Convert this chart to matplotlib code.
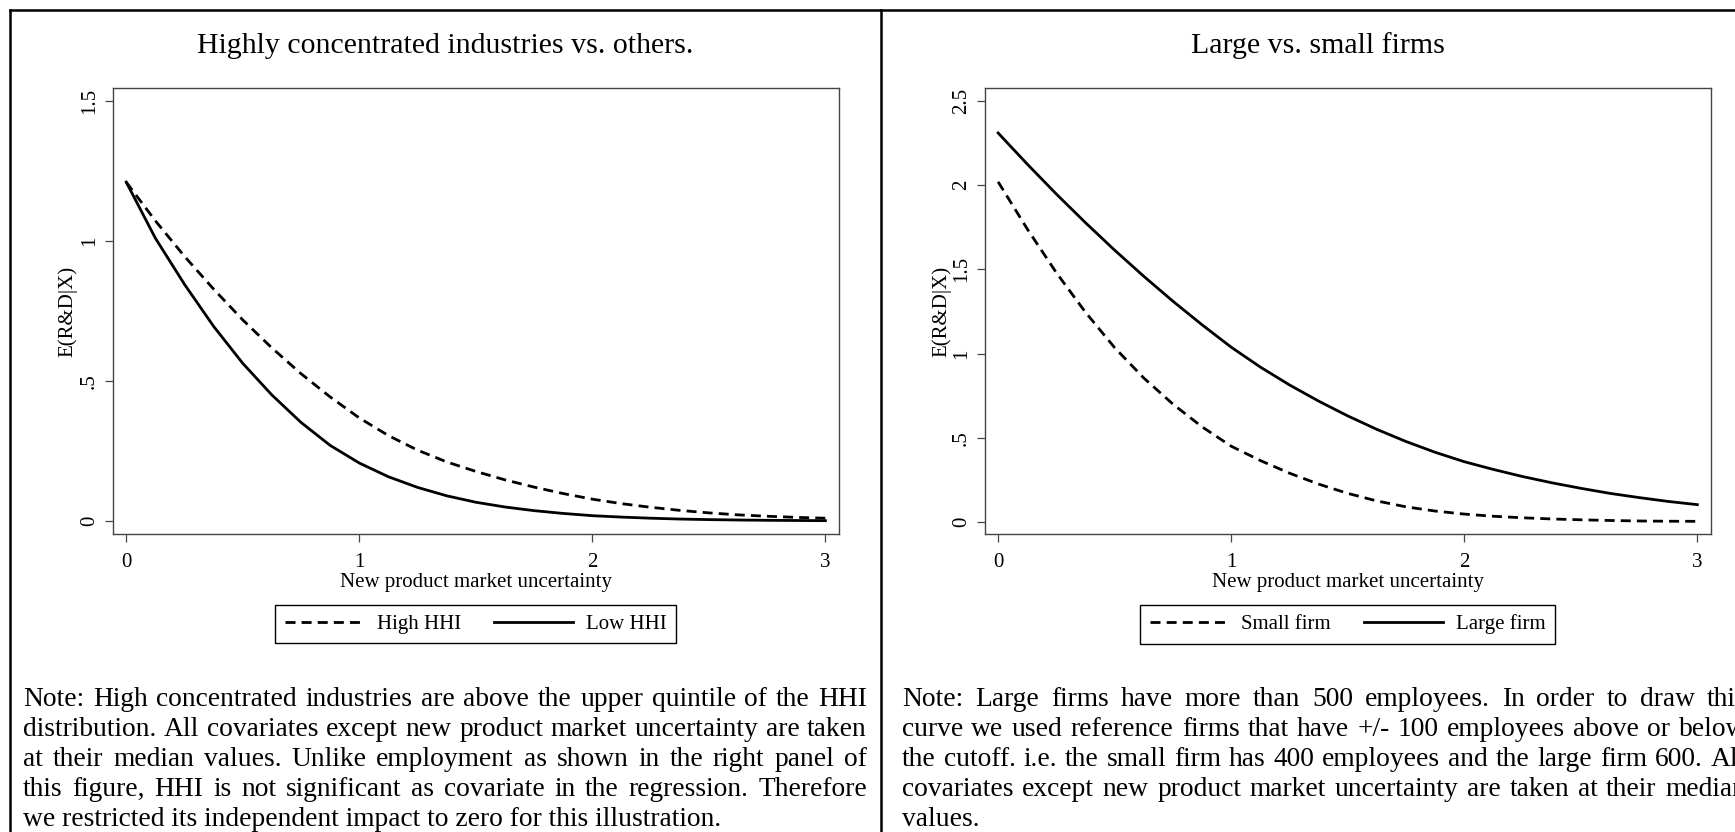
import numpy as np
import matplotlib
matplotlib.use("Agg")
import matplotlib.pyplot as plt
from matplotlib.lines import Line2D

plt.rcParams['font.family'] = ['Liberation Serif', 'DejaVu Serif']

W, H = 1735, 832

# new product market uncertainty (x)
unc = [0, 0.125, 0.25, 0.375, 0.5, 0.625, 0.75, 0.875, 1.0, 1.125, 1.25, 1.375,
       1.5, 1.625, 1.75, 1.875, 2.0, 2.125, 2.25, 2.375, 2.5, 2.625, 2.75, 2.875, 3.0]

# left panel
high_hhi = [1.21, 1.072, 0.945, 0.828, 0.718, 0.618, 0.526, 0.443, 0.368, 0.305, 0.253, 0.211,
            0.177, 0.147, 0.121, 0.098, 0.078, 0.062, 0.049, 0.038, 0.029, 0.022, 0.017, 0.013, 0.010]
low_hhi = [1.21, 1.010, 0.845, 0.695, 0.563, 0.450, 0.352, 0.270, 0.207, 0.158, 0.120, 0.090,
           0.067, 0.050, 0.037, 0.027, 0.019, 0.014, 0.010, 0.007, 0.005, 0.0035, 0.0025, 0.0018, 0.0012]

# right panel
small_firm = [2.02, 1.74, 1.48, 1.245, 1.035, 0.855, 0.70, 0.565, 0.45, 0.365, 0.29, 0.225,
              0.17, 0.125, 0.09, 0.065, 0.047, 0.034, 0.025, 0.018, 0.013, 0.009, 0.006, 0.0045, 0.004]
large_firm = [2.31, 2.125, 1.947, 1.777, 1.614, 1.459, 1.311, 1.171, 1.038, 0.920, 0.814, 0.718,
              0.630, 0.550, 0.478, 0.414, 0.358, 0.312, 0.270, 0.233, 0.200, 0.170, 0.145, 0.122, 0.103]

xticks = [0, 1, 2, 3]
yticks_left = [0, 0.5, 1, 1.5]
ylabels_left = ['0', '.5', '1', '1.5']
yticks_right = [0, 0.5, 1, 1.5, 2, 2.5]
ylabels_right = ['0', '.5', '1', '1.5', '2', '2.5']

note_left = [
    "Note: High concentrated industries are above the upper quintile of the HHI",
    "distribution. All covariates except new product market uncertainty are taken",
    "at their median values. Unlike employment as shown in the right panel of",
    "this figure, HHI is not significant as covariate in the regression. Therefore",
    "we restricted its independent impact to zero for this illustration.",
]
note_right = [
    "Note: Large firms have more than 500 employees. In order to draw this",
    "curve we used reference firms that have +/- 100 employees above or below",
    "the cutoff. i.e. the small firm has 400 employees and the large firm 600. All",
    "covariates except new product market uncertainty are taken at their median",
    "values.",
]


def fx(p):
    return p / W


def fy(p):
    return 1 - p / H


fig = plt.figure(figsize=(W / 100, H / 100), dpi=100)
fig.patch.set_facecolor('white')

dash = (3.6, 2.2)

panels = [
    dict(left=112.7, title="Highly concentrated industries vs. others.", tx=445.5,
         ylim=(-0.0464, 1.546), yt=yticks_left, yl=ylabels_left,
         dashed=high_hhi, solid=low_hhi, labels=("High HHI", "Low HHI"), ylab_x=77),
    dict(left=984.6, title="Large vs. small firms", tx=1317.5,
         ylim=(-0.0713, 2.577), yt=yticks_right, yl=ylabels_right,
         dashed=small_firm, solid=large_firm, labels=("Small firm", "Large firm"), ylab_x=951),
]

for p in panels:
    ax = fig.add_axes([fx(p['left']), fy(534), 726 / W, 446 / H])
    ax.plot(unc, p['dashed'], color='black', lw=2.0, dashes=dash, label=p['labels'][0])
    ax.plot(unc, p['solid'], color='black', lw=2.0, label=p['labels'][1])
    ax.set_xlim(-0.058, 3.057)
    ax.set_ylim(*p['ylim'])
    ax.set_xticks(xticks, [str(t) for t in xticks])
    ax.set_yticks(p['yt'], p['yl'], rotation=90, va='center')
    for s in ax.spines.values():
        s.set_color('#444444')
        s.set_linewidth(1.0)
    ax.tick_params(direction='out', length=5.8, width=0.9, color='#444444', labelsize=15)
    ax.tick_params(axis='x', pad=8)
    ax.tick_params(axis='y', pad=4)
    ax.set_xlabel("New product market uncertainty", fontsize=15)
    ax.xaxis.set_label_coords(fx(p['left'] + 363), fy(573), transform=fig.transFigure)
    ax.set_ylabel("E(R&D|X)", fontsize=15)
    ax.yaxis.set_label_coords(fx(p['ylab_x']), fy(311), transform=fig.transFigure)
    leg = ax.legend(ncol=2, loc='upper center',
                    bbox_to_anchor=(fx(p['left'] + 363), fy(605)),
                    bbox_transform=fig.transFigure, frameon=True, fancybox=False,
                    edgecolor='black', framealpha=1, fontsize=15, handlelength=3.8,
                    handletextpad=0.6, columnspacing=1.6, borderpad=0.45, borderaxespad=0)
    leg.get_frame().set_linewidth(1.0)
    fig.text(fx(p['tx']), fy(53), p['title'], fontsize=21.5, ha='center', va='baseline')

# outer frame of the combined graph
for (x0, y0, x1, y1) in [(10, 10, 10, 832), (10, 10, 1735, 10), (881, 10, 881, 832)]:
    fig.add_artist(Line2D([fx(x0), fx(x1)], [fy(y0), fy(y1)], color='black', lw=1.8,
                          transform=fig.transFigure))

# justified notes
renderer = fig.canvas.get_renderer()


def justified(lines, x0, width, y0, dy, size):
    for i, line in enumerate(lines):
        y = y0 + i * dy
        if i == len(lines) - 1:
            fig.text(fx(x0), fy(y), line, fontsize=size, va='baseline', ha='left')
            continue
        words = line.split()
        arts = [fig.text(0, fy(y), w, fontsize=size, va='baseline', ha='left') for w in words]
        widths = [a.get_window_extent(renderer).width for a in arts]
        gap = (width - sum(widths)) / (len(words) - 1)
        x = x0
        for a, w in zip(arts, widths):
            a.set_x(fx(x))
            x += w + gap


justified(note_left, 23, 844, 706, 30, 19.8)
justified(note_right, 902, 844, 706, 30, 19.8)

fig.savefig('out.png', dpi=100, facecolor='white')
